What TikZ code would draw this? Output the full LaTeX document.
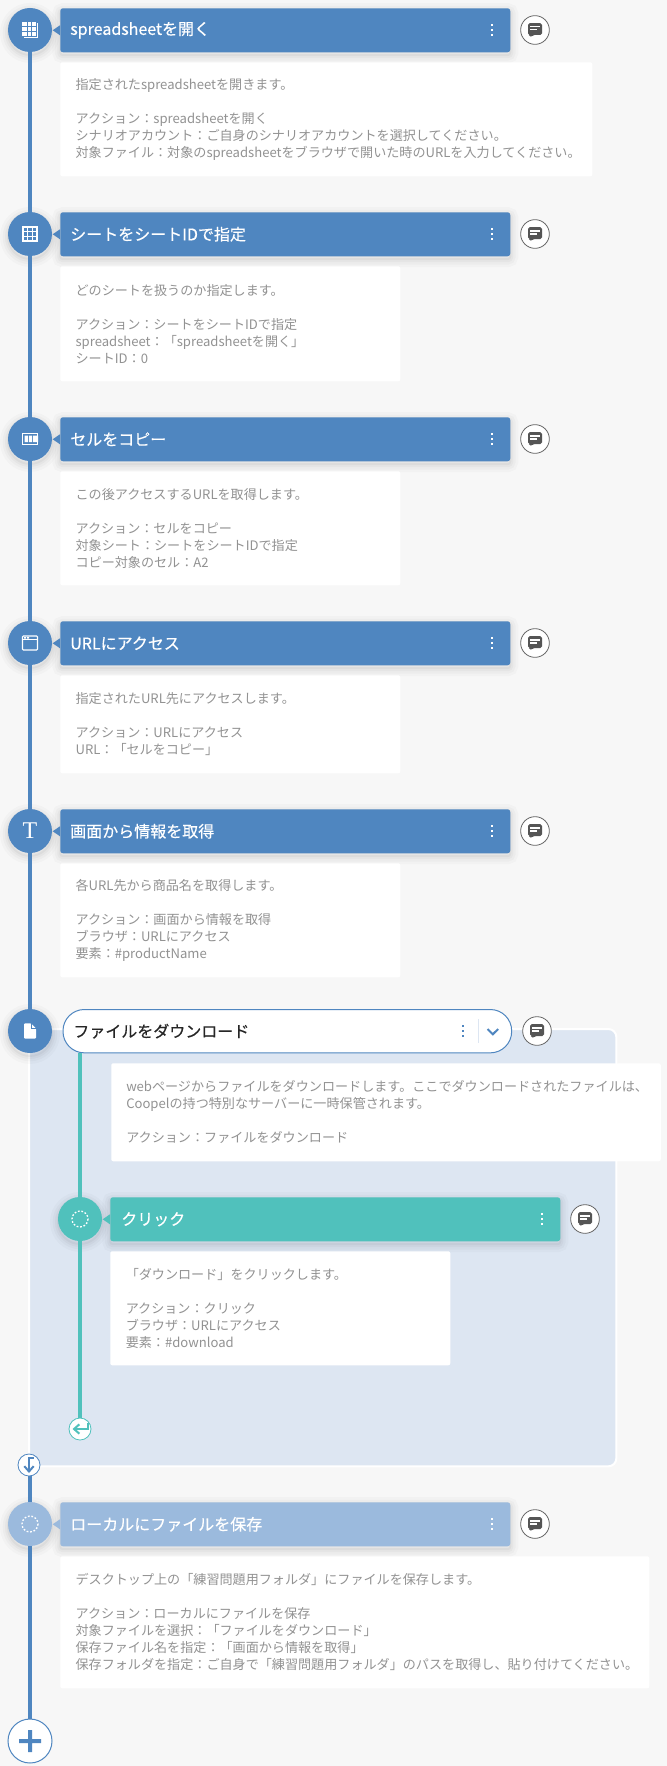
\documentclass[tikz,border=0pt]{standalone}
\usepackage{fontspec}
\setmainfont{Noto Sans CJK JP}
\newfontfamily\headfont[FakeBold=0.35]{Noto Sans CJK JP}
\usetikzlibrary{arrows.meta}
\definecolor{pagebg}{HTML}{F7F7F7}
\definecolor{stepblue}{HTML}{4F86C0}
\definecolor{steplight}{HTML}{9BBADD}
\definecolor{stepgreen}{HTML}{50C1BC}
\definecolor{panelblue}{HTML}{DDE6F2}
\definecolor{bodygray}{HTML}{929292}
\definecolor{bubblegray}{HTML}{555555}
\tikzset{
  softshadow/.style={
    preaction={draw=black,draw opacity=.018,line width=12pt,transform canvas={yshift=-2.2pt}},
    preaction={draw=black,draw opacity=.022,line width=8pt,transform canvas={yshift=-2.2pt}},
    preaction={draw=black,draw opacity=.028,line width=4.5pt,transform canvas={yshift=-2.2pt}},
    preaction={draw=black,draw opacity=.035,line width=1.5pt,transform canvas={yshift=-2.2pt}}},
  stepcircle/.style={circle,minimum size=33pt,inner sep=0pt,fill=#1,softshadow},
  headbox/.style={rectangle,anchor=north west,fill=#1,rounded corners=2pt,inner ysep=0pt,
    text=white,align=left,minimum height=33pt,softshadow,
    font=\headfont\fontsize{12}{15}\selectfont},
  cardstyle/.style={rectangle,anchor=north west,fill=white,rounded corners=1.5pt,inner ysep=0pt,
    text=bodygray,align=left,font=\fontsize{9.82}{12.75}\selectfont},
  notch/.style={fill=#1},
  mainline/.style={draw=stepblue,line width=3pt},
  greenline/.style={draw=stepgreen,line width=3pt},
  kebabdot/.style={fill=#1},
  iconline/.style={draw=white,line width=.8pt},
  commentring/.style={circle,minimum size=21.5pt,inner sep=0pt,draw=black!60,line width=.6pt,fill=white},
  smallring/.style={circle,minimum size=16.5pt,inner sep=0pt,draw=#1,line width=.6pt,fill=white},
}
\newcommand\kebab[3]{% x y colour
  \foreach \dy in {-5,0,5}{\fill[kebabdot=#3] (#1-1,#2+\dy-1) rectangle (#1+1,#2+\dy+1);}}
\newcommand\commentbubble[3]{% name x y
  \node[commentring] (#1) at (#2,#3) {};
  \begin{scope}[shift={(#2,#3)}]
    \fill[bubblegray,rounded corners=1.2pt] (-7,-6.8) -- (7,-6.8) -- (7,5) -- (-2,5) -- (-4.5,7.5) -- (-4.5,5) -- (-7,5) -- cycle;
    \fill[white] (-4.6,-3.8) rectangle (4.6,-2.5);
    \fill[white] (-4.6,-.8) rectangle (2,.5);
  \end{scope}}
\newcommand\stepbox[5]{% name cy colour title icon
  \node[stepcircle=#3] (c#1) at (30,#2) {};
  \node[headbox=#3,text width=322.5pt,inner xsep=7.5pt] (h#1) at (60,#2-22) {#4};
  \fill[notch=#3] (h#1.west) ++(0,-5) -- ++(-7.3,5) -- ++(7.3,5) -- cycle;
  \begin{scope}[shift={(30,#2)}]#5\end{scope}
  \kebab{491.7}{#2}{white}
  \commentbubble{b#1}{535}{#2}}
\newcommand\cardbox[7]{% name x1 y1 x2 y2 pad text
  \pgfmathsetlengthmacro\cardtw{(#4-#2-2*#6)*.75pt}
  \pgfmathsetlengthmacro\cardmh{(#5-#3)*.75pt}
  \pgfmathsetlengthmacro\cardpad{#6*.75pt}
  \node[cardstyle,text width=\cardtw,minimum height=\cardmh,inner xsep=\cardpad] (#1) at (#2,#3) {#7};}
\newcommand\dottedring{\draw[white,line width=1pt,dash pattern=on 1.3pt off 1.35pt] (0,0) circle (8);}
\begin{document}
\begin{tikzpicture}[x=.75pt,y=-.75pt]
\useasboundingbox (0,0) rectangle (667,1766);
\fill[pagebg] (0,0) rectangle (667,1766);
% panel
\node[rectangle,anchor=north west,fill=panelblue,draw=white,line width=1.5pt,rounded corners=6pt,
  minimum width=440.5pt,minimum height=328pt,inner sep=0pt] (panel) at (28,1028) {};
% nodes
\stepbox{1}{30}{stepblue}{spreadsheetを開く}{
  \draw[iconline] (7.6,-6.5) -- (7.6,7.4) -- (-6,7.4);
  \fill[white] (-7.7,-8) rectangle (5.8,5.6);
  \draw[stepblue,line width=.45pt] (-3.2,-8) -- (-3.2,5.6) (1.3,-8) -- (1.3,5.6) (-7.7,-3.5) -- (5.8,-3.5) (-7.7,1) -- (5.8,1);
}
\stepbox{2}{234}{stepblue}{シートをシートIDで指定}{
  \draw[iconline] (-7,-7) rectangle (7,7) (-2.3,-7) -- (-2.3,7) (2.3,-7) -- (2.3,7) (-7,-2.3) -- (7,-2.3) (-7,2.3) -- (7,2.3);
}
\stepbox{3}{439}{stepblue}{セルをコピー}{
  \draw[iconline] (-7.5,-5.5) rectangle (7.5,5.2);
  \fill[white] (-5.3,-3.5) rectangle (-2.2,3.2) (-1.2,-3.5) rectangle (2,3.2) (3,-3.5) rectangle (8.2,3.2);
}
\stepbox{4}{643}{stepblue}{URLにアクセス}{
  \draw[iconline,rounded corners=.6pt] (-7.5,-7) rectangle (7.5,7);
  \draw[iconline] (-7.5,-3.2) -- (7.5,-3.2);
  \fill[white] (-5.8,-5.9) rectangle (-4,-4.3) (-2.8,-5.9) rectangle (-1,-4.3);
}
\stepbox{5}{831}{stepblue}{画面から情報を取得}{
  \node[text=white,font=\fontspec{Liberation Serif}\fontsize{18}{18}\selectfont,inner sep=0pt] (tglyph) at (0,0) {T};
}
% group step
\node[stepcircle=stepblue] (c6) at (30,1031) {};
\begin{scope}[shift={(30,1031)}]
  \fill[white,rounded corners=.8pt] (-6,-7.7) -- (1,-7.7) -- (6,-2.7) -- (6,7.7) -- (-6,7.7) -- cycle;
  \draw[stepblue,line width=.5pt] (1,-7.7) -- (1,-2.7) -- (6,-2.7);
\end{scope}
\node[rectangle,anchor=north west,fill=white,draw=stepblue,line width=.75pt,rounded corners=16pt,
  minimum width=336.5pt,minimum height=32.5pt,inner xsep=7.5pt,inner ysep=0pt,text width=321pt,align=left,
  text=black!85,font=\headfont\fontsize{12}{15}\selectfont] (pill) at (62.5,1009) {ファイルをダウンロード};
\kebab{463}{1031}{stepblue}
\coordinate (sepa) at (478.5,1019);
\coordinate (sepb) at (478.5,1043);
\draw[panelblue,line width=.75pt] (sepa) -- (sepb);
\draw[stepblue,line width=1.5pt] (487.5,1029) -- (492.8,1034.3) -- (498.2,1029);
\commentbubble{b6}{537}{1031}
% inner step
\node[stepcircle=stepgreen] (cg) at (80,1219) {};
\begin{scope}[shift={(80,1219)}]\dottedring\end{scope}
\node[headbox=stepgreen,text width=321pt,inner xsep=8.25pt] (hg) at (110,1197) {クリック};
\fill[notch=stepgreen] (hg.west) ++(0,-5) -- ++(-7.3,5) -- ++(7.3,5) -- cycle;
\kebab{542}{1219}{white}
\commentbubble{bg}{585}{1219}
\node[smallring=stepgreen] (ret) at (80,1429) {};
\begin{scope}[shift={(80,1429)}]
  \draw[stepgreen,line width=1.5pt,-{Straight Barb[length=4pt,width=7pt]}] (8,-6) -- (8,0) -- (-7.5,0);
\end{scope}
\node[smallring=stepblue] (dwn) at (29,1465) {};
\begin{scope}[shift={(29,1465)}]
  \draw[stepblue,line width=1.5pt,-{Straight Barb[length=4pt,width=7pt]}] (4.5,-7) -- (0,-7) -- (0,8);
\end{scope}
\stepbox{7}{1524}{steplight}{ローカルにファイルを保存}{\dottedring}
\node[circle,minimum size=33pt,inner sep=0pt,fill=white,draw=stepblue,line width=.75pt] (plus) at (30,1741) {};
\begin{scope}[shift={(30,1741)}]
  \fill[stepblue] (-11,-2) rectangle (11,2) (-2,-11) rectangle (2,11);
\end{scope}
% connectors
\draw[mainline] (c1) -- (c2);
\draw[mainline] (c2) -- (c3);
\draw[mainline] (c3) -- (c4);
\draw[mainline] (c4) -- (c5);
\draw[mainline] (c5) -- (c6);
\draw[mainline] (c7 |- dwn.south) -- (c7);
\draw[mainline] (c7) -- (plus);
\draw[greenline] (pill.south -| cg) -- (cg);
\draw[greenline] (cg) -- (ret);
% cards
\cardbox{d1}{60}{62}{592}{176}{15.3}{指定されたspreadsheetを開きます。\\\mbox{}\\アクション：spreadsheetを開く\\シナリオアカウント：ご自身のシナリオアカウントを選択してください。\\対象ファイル：対象のspreadsheetをブラウザで開いた時のURLを入力してください。}
\cardbox{d2}{60}{266}{400}{381}{15.3}{どのシートを扱うのか指定します。\\\mbox{}\\アクション：シートをシートIDで指定\\spreadsheet：「spreadsheetを開く」\\シートID：0}
\cardbox{d3}{60}{471}{400}{585}{15.3}{この後アクセスするURLを取得します。\\\mbox{}\\アクション：セルをコピー\\対象シート：シートをシートIDで指定\\コピー対象のセル：A2}
\cardbox{d4}{60}{675}{400}{773}{15.3}{指定されたURL先にアクセスします。\\\mbox{}\\アクション：URLにアクセス\\URL：「セルをコピー」}
\cardbox{d5}{60}{863}{400}{977}{15.3}{各URL先から商品名を取得します。\\\mbox{}\\アクション：画面から情報を取得\\ブラウザ：URLにアクセス\\要素：\#productName}
\cardbox{d6}{111}{1063}{660.5}{1161}{15}{webページからファイルをダウンロードします。ここでダウンロードされたファイルは、\\Coopelの持つ特別なサーバーに一時保管されます。\\\mbox{}\\アクション：ファイルをダウンロード}
\cardbox{dg}{110}{1251}{450}{1365}{15.5}{「ダウンロード」をクリックします。\\\mbox{}\\アクション：クリック\\ブラウザ：URLにアクセス\\要素：\#download}
\cardbox{d7}{60}{1556}{649}{1688}{15.3}{デスクトップ上の「練習問題用フォルダ」にファイルを保存します。\\\mbox{}\\アクション：ローカルにファイルを保存\\対象ファイルを選択：「ファイルをダウンロード」\\保存ファイル名を指定：「画面から情報を取得」\\保存フォルダを指定：ご自身で「練習問題用フォルダ」のパスを取得し、貼り付けてください。}
\end{tikzpicture}
\end{document}
